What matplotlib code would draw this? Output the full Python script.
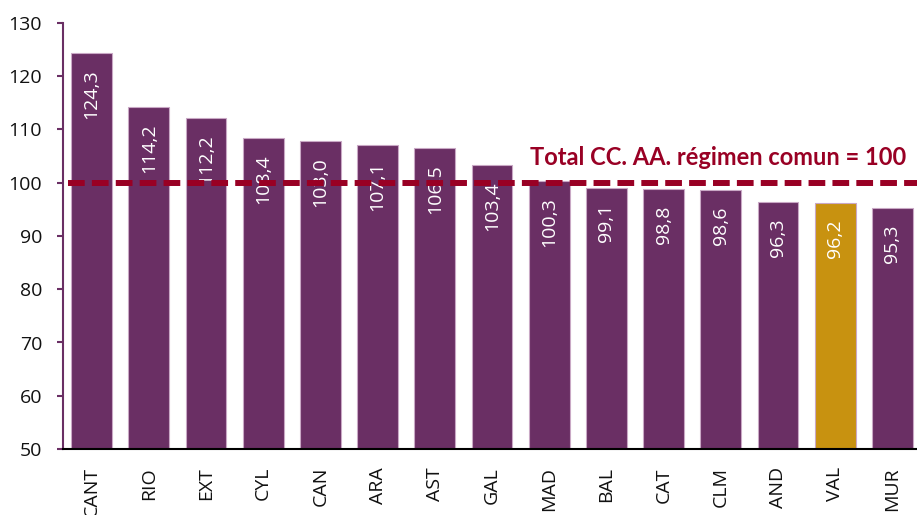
import matplotlib
matplotlib.use('Agg')
import matplotlib.pyplot as plt

# regions and index values (regimen comun = 100)
regions = ['CANT', 'RIO', 'EXT', 'CYL', 'CAN', 'ARA', 'AST', 'GAL',
           'MAD', 'BAL', 'CAT', 'CLM', 'AND', 'VAL', 'MUR']
values = [124.3, 114.2, 112.2, 108.4, 107.8, 107.1, 106.5, 103.4,
          100.3, 99.1, 98.8, 98.6, 96.3, 96.2, 95.3]
value_labels = ['124,3', '114,2', '112,2', '108,4', '103,0', '107,1', '106,5', '103,4',
                '100,3', '99,1', '98,8', '98,6', '96,3', '96,2', '95,3']
highlight = 'VAL'
reference = 100
ref_label = 'Total CC. AA. régimen comun = 100'

purple = '#6A2F64'
gold = '#C89210'
red = '#990024'

plt.rcParams['font.family'] = ['Open Sans', 'DejaVu Sans']

fig = plt.figure(figsize=(9.17, 5.15), dpi=100)
ax = fig.add_axes([63/917, 66/515, 1 - 63/917, 426/515])

colors = [gold if r == highlight else purple for r in regions]
x = range(len(regions))
ax.bar(x, values, width=0.715, color=colors, edgecolor='#C9A8C5', linewidth=0.8, zorder=2)

for i, (v, lab) in enumerate(zip(values, value_labels)):
    ax.text(i, v - 3.1, lab, rotation=90, ha='center', va='top',
            color='white', fontsize=14, zorder=3)

ax.axhline(reference, xmin=0.006, color=red, linewidth=4.3, dashes=(2.8, 1.2), zorder=4)
ax.text(14.25, 103.3, ref_label, ha='right', va='baseline', color=red,
        fontsize=17, fontweight='bold', family='Lato', zorder=5)

ax.set_xlim(-0.5, 14.43)
ax.set_ylim(50, 130)
ax.set_yticks(range(50, 131, 10))
ax.set_xticks(list(x))
ax.set_xticklabels(regions, rotation=90, fontsize=14, color='#111111')
ax.tick_params(axis='x', length=0, pad=13)
ax.tick_params(axis='y', length=4.5, width=1.5, color=purple, labelsize=14,
               labelcolor='#111111', pad=10.5)

for s in ['top', 'right']:
    ax.spines[s].set_visible(False)
ax.spines['left'].set_color(purple)
ax.spines['left'].set_linewidth(1.5)
ax.spines['bottom'].set_color('black')
ax.spines['bottom'].set_linewidth(1.5)
ax.spines['bottom'].set_zorder(5)

fig.savefig('out.png', dpi=100)
